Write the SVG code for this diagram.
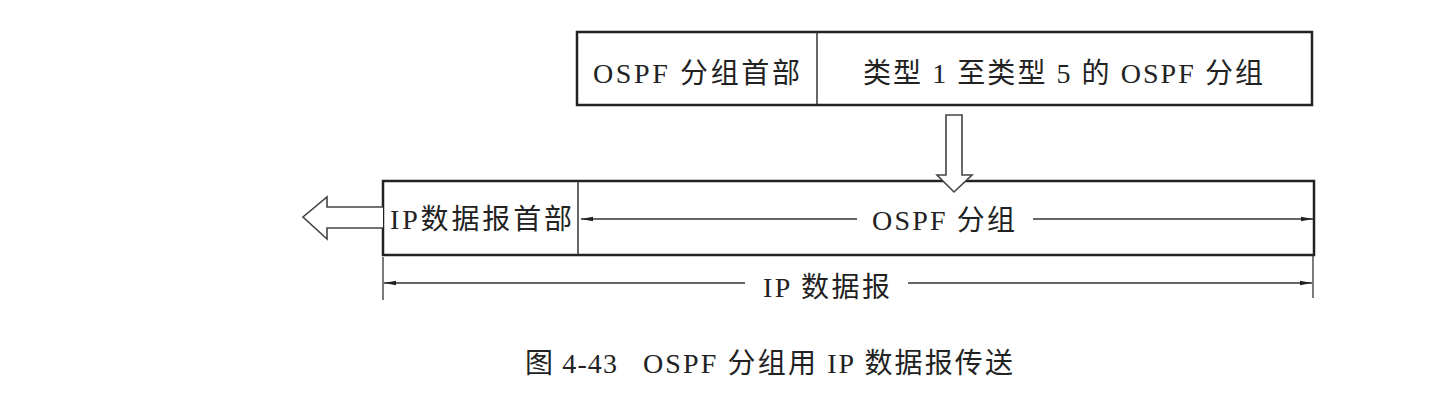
<svg xmlns="http://www.w3.org/2000/svg" width="1430" height="412" viewBox="0 0 1430 412">
<defs>
<style>
.t{font-family:"Liberation Serif","Noto Sans CJK SC",serif;font-size:28px;fill:#222}
.box{fill:#fff;stroke:#222;stroke-width:2.5}
.ln{stroke:#333;stroke-width:1.3;fill:none}
.hollow{fill:#fff;stroke:#444;stroke-width:1.6;stroke-linejoin:miter}
</style>
<marker id="ah" viewBox="0 0 12 6" refX="12" refY="3" markerWidth="12" markerHeight="6" markerUnits="userSpaceOnUse" orient="auto-start-reverse">
<path d="M0,0.8 L12,3 L0,5.2 Z" fill="#222"/>
</marker>
</defs>
<rect width="1430" height="412" fill="#fff"/>
<g id="ospf-packet">
<rect class="box" x="577" y="32" width="735" height="73"/>
<line x1="817" y1="32" x2="817" y2="105" stroke="#333" stroke-width="1.5"/>
<text class="t" x="593" y="83" textLength="207" lengthAdjust="spacing">OSPF 分组首部</text>
<text class="t" x="863" y="83" textLength="400" lengthAdjust="spacing">类型 1 至类型 5 的 OSPF 分组</text>
</g>
<g id="ip-datagram">
<rect class="box" x="383" y="181" width="931" height="74"/>
<line x1="578" y1="181" x2="578" y2="255" stroke="#333" stroke-width="1.5"/>
<text class="t" x="390" y="229" textLength="182" lengthAdjust="spacing">IP数据报首部</text>
<text class="t" x="872" y="230" textLength="143" lengthAdjust="spacing">OSPF 分组</text>
</g>
<g id="dimension">
<text class="t" x="763" y="297" textLength="127" lengthAdjust="spacing">IP 数据报</text>
</g>
<g id="connectors">
<path class="hollow" d="M946,115 L962,115 L962,175 L972,175 L954,192 L937,175 L946,175 Z"/>
<path class="hollow" d="M383,207 L327,207 L327,197 L303,217 L327,239 L327,228 L383,228"/>
<line class="ln" x1="581" y1="219" x2="857" y2="219" marker-start="url(#ah)"/>
<line class="ln" x1="1033" y1="219" x2="1313" y2="219" marker-end="url(#ah)"/>
<line class="ln" x1="383" y1="257" x2="383" y2="300"/>
<line class="ln" x1="1313" y1="255" x2="1313" y2="298"/>
<line class="ln" x1="384" y1="283" x2="745" y2="283" marker-start="url(#ah)"/>
<line class="ln" x1="908" y1="283" x2="1312" y2="283" marker-end="url(#ah)"/>
</g>
<g id="caption">
<text class="t" x="525" y="373" textLength="92" lengthAdjust="spacing">图 4-43</text>
<text class="t" x="643" y="373" textLength="370" lengthAdjust="spacing">OSPF 分组用 IP 数据报传送</text>
</g>
</svg>
